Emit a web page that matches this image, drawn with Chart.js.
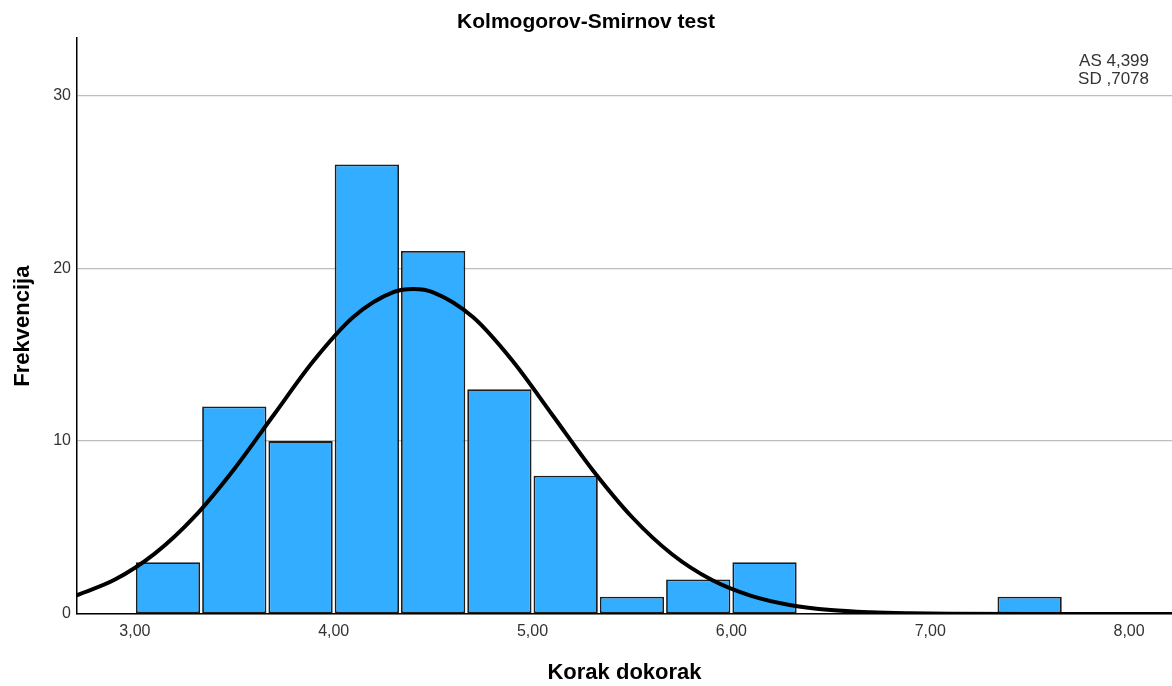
<!DOCTYPE html>
<html lang="hr">
<head>
<meta charset="UTF-8">
<title>Kolmogorov-Smirnov test</title>
<script src="https://cdn.jsdelivr.net/npm/chart.js"></script>
<style>
  body { margin: 0; background: #fff; }
  #wrap { width: 1172px; height: 686px; }
</style>
</head>
<body>
<div id="wrap"><canvas id="histChart" width="1172" height="686"></canvas></div>
<script>
// histogram bins (centres of 1/3-wide bins) and counts
const binCenters = [3.1667, 3.5, 3.8333, 4.1667, 4.5, 4.8333, 5.1667, 5.5, 5.8333, 6.1667, 7.5];
const counts = [3, 12, 10, 26, 21, 13, 8, 1, 2, 3, 1];

// normal curve
const curveX = [2.7, 2.9, 3.1, 3.3, 3.5, 3.7, 3.9, 4.1, 4.3, 4.4, 4.5, 4.7, 4.9, 5.1, 5.3, 5.5, 5.7, 5.9, 6.1, 6.3, 6.5, 6.7, 6.9, 7.1, 7.5, 8.0, 8.3];
const curveY = [1.05, 1.99, 3.49, 5.63, 8.39, 11.54, 14.66, 17.19, 18.61, 18.79, 18.60, 17.17, 14.63, 11.51, 8.36, 5.61, 3.47, 1.98, 1.05, 0.51, 0.23, 0.10, 0.04, 0.01, 0, 0, 0];

const yTicks = [0, 10, 20, 30];
const statsText = ['AS 4,399', 'SD ,7078'];

const FONT = '"Liberation Sans", Arial, sans-serif';

// AS / SD box in the top right corner
const statsLabel = {
  id: 'statsLabel',
  afterDraw(chart) {
    const ctx = chart.ctx;
    ctx.save();
    ctx.font = '17px ' + FONT;
    ctx.fillStyle = '#333';
    ctx.textAlign = 'right';
    ctx.textBaseline = 'middle';
    statsText.forEach((t, i) => ctx.fillText(t, chart.chartArea.right - 23, 61 + i * 18));
    ctx.restore();
  }
};

new Chart(document.getElementById('histChart'), {
  type: 'bar',
  data: {
    datasets: [{
      type: 'line',
      data: curveX.map((x, i) => ({ x: x, y: curveY[i] })),
      borderColor: '#000',
      borderWidth: 4,
      pointRadius: 0,
      cubicInterpolationMode: 'monotone',
      order: 0
    }, {
      type: 'bar',
      data: binCenters.map((x, i) => ({ x: x, y: counts[i] })),
      backgroundColor: '#33adff',
      borderColor: '#1e1e1e',
      borderWidth: 1.8,
      borderSkipped: false,
      barPercentage: 0.97,
      categoryPercentage: 1,
      order: 1
    }]
  },
  options: {
    responsive: false,
    animation: false,
    layout: { padding: 0 },
    plugins: {
      legend: { display: false },
      tooltip: { enabled: false },
      title: {
        display: true,
        text: 'Kolmogorov-Smirnov test',
        color: '#000',
        font: { family: FONT, size: 21, weight: 'bold' },
        padding: { top: 10, bottom: 3 }
      }
    },
    scales: {
      x: {
        type: 'linear',
        min: 2.709,
        max: 8.216,
        offset: false,
        grid: { display: false, offset: false, drawTicks: false },
        border: { display: true, color: '#000', width: 1.5 },
        ticks: {
          stepSize: 1,
          includeBounds: false,
          padding: 8,
          color: '#333',
          font: { family: FONT, size: 16 },
          callback: v => v.toFixed(2).replace('.', ',')
        },
        title: {
          display: true,
          text: 'Korak dokorak',
          color: '#000',
          font: { family: FONT, size: 22, weight: 'bold' },
          padding: { top: 0, bottom: 0 }
        },
        afterFit: s => { s.height = 72; }
      },
      y: {
        min: 0,
        max: 33.3,
        grid: { color: '#bdbdbd', lineWidth: 1.2, drawTicks: false },
        border: { display: true, color: '#000', width: 1.5 },
        ticks: {
          stepSize: 10,
          includeBounds: false,
          padding: 6,
          color: '#333',
          font: { family: FONT, size: 16 },
          callback: v => yTicks.includes(v) ? String(v) : ''
        },
        title: {
          display: true,
          text: 'Frekvencija',
          color: '#000',
          font: { family: FONT, size: 22, weight: 'bold' },
          padding: { top: 10, bottom: 0 }
        },
        afterFit: s => { s.width = 77; }
      }
    }
  },
  plugins: [statsLabel]
});
</script>
</body>
</html>
